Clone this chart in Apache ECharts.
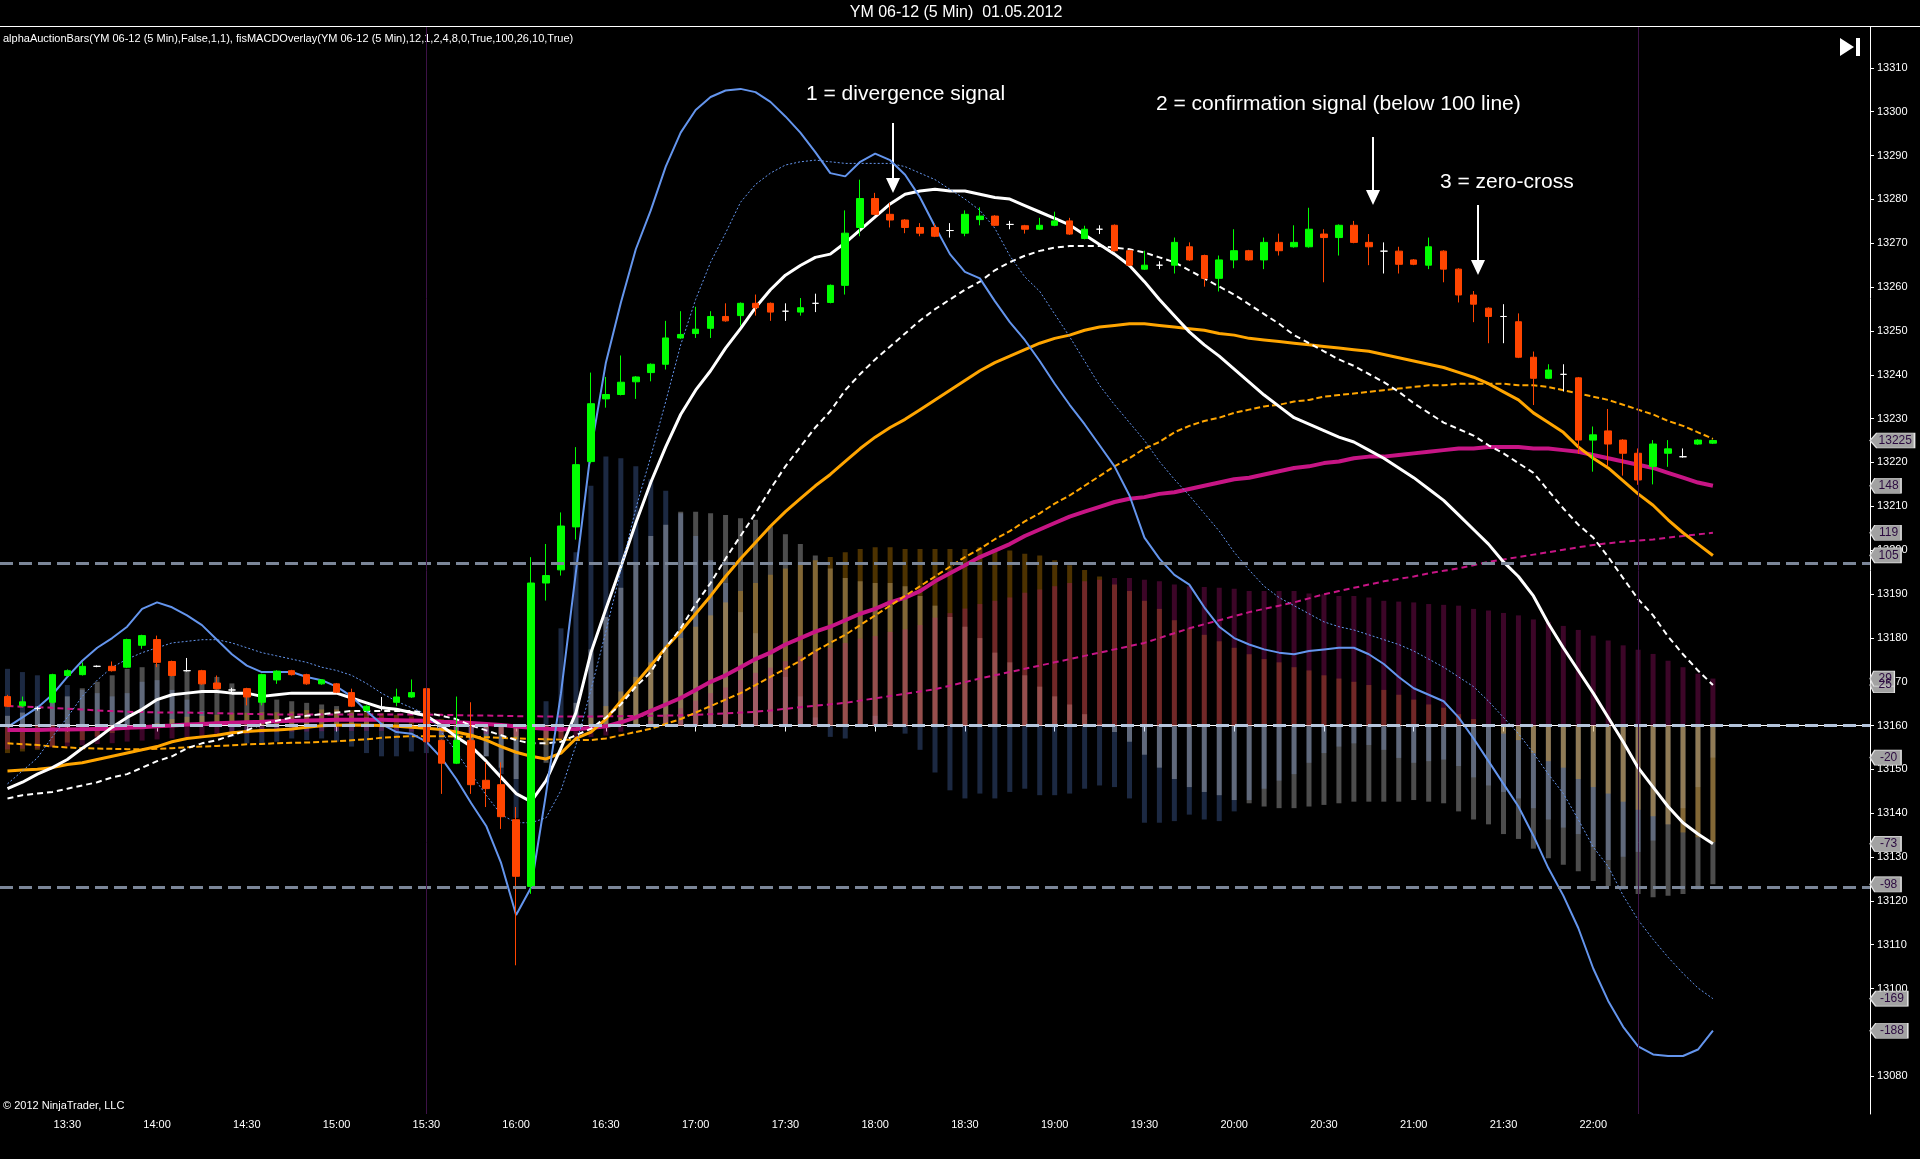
<!DOCTYPE html>
<html><head><meta charset="utf-8">
<script src="https://cdn.jsdelivr.net/npm/echarts@6/dist/echarts.min.js"></script>
<style>html,body{margin:0;padding:0;background:#000;}#c{width:1920px;height:1159px;}</style>
</head><body><div id="c"></div>
<script>
// ---------- categories (5-minute bars) ----------
const categories = [];
for (let m = 13 * 60 + 10; m <= 23 * 60 + 30; m += 5) {
  categories.push(String(Math.floor(m / 60)).padStart(2, '0') + ':' + String(m % 60).padStart(2, '0'));
}
const timeTickLabels = ['13:30','14:00','14:30','15:00','15:30','16:00','16:30','17:00','17:30','18:00','18:30','19:00','19:30','20:00','20:30','21:00','21:30','22:00'];
const sessionBreaks = ['15:30', '22:15'];
const macdLevels = [100, 0, -100];

// ---------- price bars: [open, close, low, high] ----------
const candles = [
[13166.6,13164.4,13164.2,13167.0],[13164.5,13165.4,13164.2,13166.6],[13163.9,13163.9,13163.4,13164.3],[13165.3,13171.6,13165.0,13171.8],
[13171.4,13172.5,13171.2,13172.8],[13171.6,13173.5,13171.4,13174.4],[13173.5,13173.5,13173.3,13173.7],[13173.5,13172.5,13172.3,13174.6],
[13173.3,13179.6,13173.1,13179.8],[13178.3,13180.5,13177.5,13180.7],[13179.6,13174.4,13173.3,13180.5],[13174.6,13171.4,13171.2,13174.8],
[13172.5,13172.5,13172.3,13175.4],[13172.5,13169.5,13169.3,13172.7],[13169.7,13168.4,13168.2,13171.4],[13168.1,13168.1,13167.6,13168.6],
[13168.4,13166.5,13164.6,13168.6],[13165.3,13171.6,13164.6,13171.8],[13170.4,13172.4,13169.5,13172.6],[13172.5,13171.6,13171.4,13172.7],
[13171.6,13169.5,13169.3,13171.8],[13169.5,13170.4,13169.3,13170.6],[13169.5,13167.6,13167.4,13169.7],[13167.5,13164.4,13164.2,13168.4],
[13163.4,13164.4,13163.2,13164.6],[13164.2,13164.2,13163.4,13166.5],[13165.3,13166.5,13164.4,13168.4],[13166.5,13167.5,13166.3,13170.5],
[13168.4,13156.3,13156.1,13168.6],[13156.6,13151.4,13144.4,13156.8],[13151.4,13156.6,13151.2,13166.6],[13156.6,13146.5,13144.4,13165.3],
[13147.5,13145.6,13141.4,13151.6],[13146.5,13139.2,13136.4,13151.6],[13138.5,13125.6,13105.3,13141.4],[13123.3,13192.5,13121.6,13198.4],
[13192.5,13194.2,13188.5,13201.4],[13195.5,13205.5,13194.2,13208.6],[13205.3,13219.5,13202.4,13223.5],[13220.2,13233.4,13219.8,13240.5],
[13234.5,13235.5,13232.5,13239.5],[13235.5,13238.3,13235.3,13244.4],[13238.4,13239.5,13234.5,13239.7],[13240.5,13242.4,13238.5,13242.6],
[13242.4,13248.4,13241.2,13252.3],[13248.4,13249.2,13248.2,13254.5],[13249.4,13250.4,13248.4,13255.5],[13250.6,13253.3,13248.4,13254.5],
[13253.3,13252.3,13252.1,13256.3],[13253.5,13256.3,13251.2,13256.5],[13256.3,13255.3,13253.5,13258.3],[13256.3,13254.3,13252.3,13256.5],
[13254.5,13254.5,13252.3,13256.3],[13254.3,13255.3,13253.5,13257.5],[13256.3,13256.3,13254.3,13258.5],[13256.5,13260.4,13256.3,13260.6],
[13260.4,13272.3,13258.3,13277.5],[13273.6,13280.2,13271.6,13284.5],[13280.2,13276.6,13276.4,13281.5],[13276.6,13275.3,13273.6,13279.2],
[13275.3,13273.6,13272.3,13275.5],[13273.6,13272.3,13271.6,13274.6],[13273.6,13271.6,13271.4,13274.4],[13272.9,13272.9,13271.3,13274.6],
[13272.3,13276.6,13271.6,13277.5],[13275.4,13276.2,13274.1,13278.2],[13276.2,13274.1,13273.9,13276.4],[13274.3,13274.3,13273.2,13275.1],
[13274.0,13273.2,13272.2,13274.2],[13273.2,13274.1,13273.0,13275.8],[13274.1,13275.1,13273.9,13277.2],[13275.1,13272.1,13271.9,13275.8],
[13271.1,13273.2,13270.9,13274.0],[13273.2,13273.2,13272.1,13274.1],[13274.1,13268.3,13268.1,13274.3],[13268.3,13265.0,13264.8,13268.5],
[13264.1,13265.0,13263.9,13268.3],[13265.0,13265.0,13264.1,13265.9],[13265.0,13270.2,13263.1,13271.3],[13269.2,13266.2,13266.0,13270.2],
[13267.2,13262.0,13260.1,13267.4],[13262.0,13266.2,13259.0,13267.2],[13266.2,13268.3,13264.3,13273.2],[13268.3,13266.2,13266.0,13268.5],
[13266.2,13270.2,13264.1,13271.3],[13270.2,13268.3,13267.2,13272.2],[13269.2,13270.2,13269.0,13274.1],[13269.2,13273.2,13269.0,13278.1],
[13272.1,13271.3,13261.1,13273.2],[13271.3,13274.1,13267.2,13274.3],[13274.1,13270.2,13270.0,13275.1],[13270.2,13269.2,13265.0,13272.1],
[13268.2,13268.2,13263.1,13270.2],[13268.2,13265.2,13263.1,13269.2],[13266.2,13265.2,13265.0,13266.4],[13265.0,13269.2,13264.1,13271.3],
[13268.2,13264.1,13261.1,13268.4],[13264.1,13258.2,13256.5,13264.3],[13258.2,13256.1,13252.0,13259.1],[13255.2,13253.3,13247.2,13255.4],
[13253.3,13253.3,13247.2,13256.1],[13252.1,13244.0,13243.8,13254.0],[13244.0,13239.2,13233.1,13245.3],[13239.2,13241.1,13239.0,13242.4],
[13240.1,13240.1,13236.2,13242.4],[13239.3,13225.1,13222.0,13239.5],[13225.1,13226.3,13217.9,13228.2],[13227.2,13224.2,13219.1,13232.2],
[13225.1,13222.1,13217.0,13225.3],[13222.1,13216.0,13214.9,13223.2],[13219.1,13224.2,13215.0,13225.1],[13222.1,13223.1,13219.0,13225.1],
[13221.3,13221.3,13221.1,13223.2],[13224.2,13225.1,13224.0,13225.3],[13224.4,13225.0,13224.2,13225.2]
];

// ---------- MACD overlay lines (indicator units) ----------
const blueFast = [-1,5,11,19,30,40,48,54,61,72,76,73,68,62,53,44,37,33,33,33,30,28,24,18,9,1,-4,-5,-10,-20,-33,-48,-62,-85,-117,-100,-42,20,95,
170,224,261,294,318,345,366,380,388,392,393,391,385,376,366,354,341,339,348,353,349,340,326,308,291,280,276,
262,249,238,225,211,198,186,173,160,142,116,103,93,87,73,61,54,50,47,45,44,46,47,48,48,44,38,30,23,19,15,5,-8,-22,-36,-50,-68,-88,-105,-125,-150,-170,-186,-198,-203,-204,-204,-200,-188.4];
const blueSignal = [-36,-28,-20,-7,5,18,28,36,41,45,48,51,52,53,53,51,48,45,43,41,39,36,34,31,26,20,15,11,7,-4,-16,-30,-43,-55,-60,-60,-57,-40,-12,
22,58,96,134,166,200,235,263,286,304,323,334,341,346,348,349,348,347,347,347,347,345,341,337,331,325,318,
307,290,277,268,254,240,225,210,198,187,176,163,152,142,131,120,107,96,86,79,74,69,64,61,59,56,53,50,46,41,36,30,24,15,5,-5,-17,-30,-42,-58,-75,-87,-105,-120,-132,-143,-153,-162,-168.6];
const whiteFast = [-39,-35,-30,-26,-21,-14,-8,-1,5,10,16,19,20,21,21,20,20,18,19,20,20,20,20,17,14,11,10,8,6,0,-7,-13,-22,-32,-42,-47,
-34,-14,8,45,72,98,125,150,172,192,207,219,233,245,258,269,278,284,289,291,298,306,314,322,328,330,331,330,330,328,326,
325,321,317,313,309,303,297,291,284,274,263,253,243,235,228,220,212,204,197,190,186,182,178,175,170,165,159,153,146,139,130,121,112,101,92,80,63,48,34,20,5,-10,-26,-38,-50,-60,-67,-73];
const whiteSignal = [-45,-43,-42,-41,-39,-37,-35,-32,-30,-26,-22,-19,-14,-11,-9,-6,-3,1,3,5,6,7,8,9,9,9,9,9,8,6,4,0,-3,-6,-9,-11,-11,-10,-6,
-2,5,13,24,33,48,60,75,88,103,117,131,146,160,172,184,194,207,217,226,234,242,250,257,263,269,274,281,286,290,
293,295,296,296,296,295,294,292,289,286,281,276,271,266,260,254,248,241,236,231,226,222,217,212,206,199,193,187,183,179,
173,168,162,156,145,134,124,116,104,91,78,68,55,44,34,25];
const orangeFast = [-28,-27.5,-27,-26,-24,-23,-21,-19,-17,-15,-13,-10,-8,-7,-6,-4.5,-3.7,-3.1,-2.7,-2.1,-1,-0.2,0.2,0.4,0.2,0,-0.4,-1,-1.7,-2.5,-4,-6,-9,-13,-16.5,-19,-20.6,-17,-8,
-4,4,15,26,37,48,58,69,80,92,103,113,123,132,140,148,155,163,171,178,184,189,195,201,207,213,219,224,228,232,
236,239,241,244,246,247,248,248,247,246,245,244,242,241,239,238,237,236,235,234,233,232,231,229,227,225,223,221,218,215,
211,206,201,193,187,181,172,165,159,151,143,136,127,119,112,105];
const orangeSignal = [-11,-11.5,-12,-13,-13.5,-14,-14.2,-14.4,-14.6,-14.6,-14.4,-14,-13.4,-13,-12.6,-12.2,-11.6,-11.4,-10.9,-10.7,-10.5,-10.1,-9.7,-9.1,-8.5,-7.6,-7,-6.6,-6.6,-6.6,-6.8,-7,-7.2,-7.6,-8,-8.3,-8.5,-8.7,-8.9,
-9,-8,-6,-4,-2,1,4,8,12,16,20,25,30,35,40,46,51,56,62,68,74,80,86,92,98,104,109,115,120,126,
131,137,142,148,154,160,165,171,175,181,185,188,190,193,195,197,198,200,201,203,204,205,206,207,208,209,210,210,211,211,
211,211,210,210,209,207,205,203,201,198,195,192,188,185,181,177];
const magentaFast = [-2.7,-2.7,-2.7,-2.5,-2.5,-2.3,-2.1,-2,-1.4,-1,-0.5,0,0.6,1,1.4,1.7,2,2.3,2.7,3,3.1,3.3,3.5,3.5,3.5,3.5,3.3,3.1,2.9,2.3,2,1.5,1,0.4,-0.6,-1.4,-2,-2.3,-2.1,
-1.5,-0.5,2,5,9,13,17,22,27,31,36,41,45,50,54,58,61,65,69,72,76,79,83,89,94,99,104,108,112,117,
121,125,129,132,135,138,140,141,143,144,146,148,150,152,153,155,157,159,160,162,163,165,166,166,167,168,169,170,171,171,
172,172,172,171,171,170,169,167,165,163,161,159,156,153,150,148];
const magentaSignal = [12,11.6,11.4,10.9,10.3,9.9,9.3,8.9,8.5,8.3,8.1,8,8,7.8,7.6,7.4,7.2,7,6.8,6.8,6.8,6.8,6.8,6.8,6.8,6.8,6.8,6.8,6.8,6.6,6.4,6.2,6.2,6,5.8,5.8,5.6,5.6,5.6,
5.6,5.7,5.8,5.9,6,6.1,6.3,6.6,7,7.5,8,8.5,9.3,10.3,11.3,12.2,13.1,14,15.4,16.8,18.2,19.6,21,22.4,24.6,26.8,29,31,33,35,
37,39,41,43,45,47,49,51,54,57,60,62.5,65,67.5,70,72,74,76,78.5,81,83,85,87,89,90.5,92,94,95.5,97,99,
101,102.5,104,105.5,107,108.5,110,111.5,112.5,113.5,114.2,114.8,116,117,118,119];

// histograms = fast line minus its signal line
const diff = (a, b) => a.map((v, i) => +(v - b[i]).toFixed(1));
const blueHist = diff(blueFast, blueSignal);
const whiteHist = diff(whiteFast, whiteSignal);
const orangeHist = diff(orangeFast, orangeSignal);
const magentaHist = diff(magentaFast, magentaSignal);

// ---------- styling ----------
const FONT = "'Liberation Sans', Arial, sans-serif";
const C_BLUE = '#6495ED', C_WHITE = '#FFFFFF', C_ORANGE = '#FFA500', C_MAG = '#C71585';
const last = a => a[a.length - 1];

function tag(value, text) {
  const w = text.length * 6.7 + 11;
  return {
    silent: true,
    symbol: 'path://M0,7 L6,0 L40,0 L40,14 L6,14 Z',
    symbolSize: [w, 15],
    symbolKeepAspect: false,
    symbolOffset: [7.5 + w / 2, 0],
    itemStyle: { color: '#a2a2a2', borderColor: '#e4e4e4', borderWidth: 1 },
    label: { show: true, position: 'inside', formatter: text, color: '#2c0b40', fontSize: 12, fontFamily: FONT, offset: [3, 0] },
    data: [{ coord: [categories.length - 1, value] }]
  };
}
const tagFor = arr => tag(last(arr), String(Math.round(last(arr))));

function histSeries(name, data, color, extra) {
  return Object.assign({
    name, type: 'bar', yAxisIndex: 1, data, barWidth: 5, barGap: '-100%',
    itemStyle: { color }, z: 1, silent: true
  }, extra || {});
}
function lineSeries(name, data, color, width, type, z, extra) {
  return Object.assign({
    name, type: 'line', yAxisIndex: 1, data, symbol: 'none', smooth: false,
    lineStyle: { color, width, type }, z, silent: true
  }, extra || {});
}

const levelLines = {
  silent: true, symbol: ['none', 'none'], label: { show: false },
  data: [
    { yAxis: macdLevels[0], lineStyle: { color: '#7b8698', width: 3, type: [13, 6] } },
    { yAxis: macdLevels[1], lineStyle: { color: '#b3c3da', width: 3, type: [13, 6] } },
    { yAxis: macdLevels[2], lineStyle: { color: '#7b8698', width: 3, type: [13, 6] } },
    ...sessionBreaks.map(t => ({ xAxis: t, lineStyle: { color: '#3d1247', width: 1, type: 'solid' } }))
  ]
};

const option = {
  backgroundColor: '#000',
  animation: false,
  grid: { left: 0, right: 50, top: 27, bottom: 45, containLabel: false },
  xAxis: {
    type: 'category', data: categories, boundaryGap: true,
    axisLine: { show: true, lineStyle: { color: '#ffffff', width: 1 } },
    axisTick: { show: true, alignWithLabel: true, length: 6, interval: (i, v) => timeTickLabels.includes(v), lineStyle: { color: '#ffffff' } },
    axisLabel: { interval: (i, v) => timeTickLabels.includes(v), color: '#ffffff', fontSize: 11, fontFamily: FONT, margin: 5 },
    splitLine: { show: false }
  },
  yAxis: [
    {
      type: 'value', position: 'right', min: 13071.38, max: 13319.33, splitNumber: 25,
      axisLine: { show: true, lineStyle: { color: '#ffffff', width: 1 } },
      axisTick: { show: true, inside: false, length: 4, lineStyle: { color: '#ffffff' } },
      axisLabel: { color: '#ffffff', fontSize: 11, fontFamily: FONT, margin: 7, showMinLabel: false, showMaxLabel: false,
                   formatter: v => String(Math.round(v)) },
      splitLine: { show: false }
    },
    { type: 'value', show: false, min: -239.8, max: 431.2, splitLine: { show: false } }
  ],
  series: [
    histSeries('blueHist', blueHist, 'rgba(100,149,237,0.28)', { markLine: levelLines, markPoint: tagFor(blueHist) }),
    histSeries('whiteHist', whiteHist, 'rgba(255,255,255,0.30)', { markPoint: tagFor(whiteHist) }),
    histSeries('orangeHist', orangeHist, 'rgba(255,165,0,0.30)'),
    histSeries('magentaHist', magentaHist, 'rgba(199,21,133,0.30)'),
    lineSeries('magentaSignal', magentaSignal, C_MAG, 2, [6, 4], 3, { markPoint: tagFor(magentaSignal) }),
    lineSeries('magentaFast', magentaFast, C_MAG, 4, 'solid', 3, { markPoint: tagFor(magentaFast) }),
    lineSeries('orangeSignal', orangeSignal, C_ORANGE, 2, [6, 3], 3),
    lineSeries('orangeFast', orangeFast, C_ORANGE, 3, 'solid', 3, { markPoint: tagFor(orangeFast) }),
    lineSeries('whiteSignal', whiteSignal, C_WHITE, 2, [6, 4], 3, { markPoint: tagFor(whiteSignal) }),
    lineSeries('magentaHistTag', [], C_MAG, 0, 'solid', 3, { markPoint: tagFor(magentaHist) }),
    lineSeries('whiteFast', whiteFast, C_WHITE, 3, 'solid', 3, { markPoint: tagFor(whiteFast) }),
    lineSeries('blueSignal', blueSignal, C_BLUE, 1, [2, 2], 3, { markPoint: tagFor(blueSignal) }),
    lineSeries('blueFast', blueFast, C_BLUE, 2, 'solid', 3, { markPoint: tagFor(blueFast) }),
    {
      name: 'price', type: 'candlestick', yAxisIndex: 0, data: candles, barWidth: 7, z: 4, silent: true,
      itemStyle: { color: '#00ff00', color0: '#ff4500', borderColor: '#00ff00', borderColor0: '#ff4500', borderColorDoji: '#ffffff', borderWidth: 1 },
      markPoint: tag(last(candles)[1], String(Math.round(last(candles)[1])))
    }
  ],
  graphic: [
    { type: 'line', silent: true, shape: { x1: 0, y1: 26.5, x2: 1920, y2: 26.5 }, style: { stroke: '#ffffff', lineWidth: 1 } },
    { type: 'text', silent: true, x: 956, y: 13, style: { text: 'YM 06-12 (5 Min)  01.05.2012', fill: '#ffffff', font: '16px ' + FONT, textAlign: 'center', textVerticalAlign: 'middle' } },
    { type: 'text', silent: true, x: 3, y: 39, style: { text: 'alphaAuctionBars(YM 06-12 (5 Min),False,1,1), fisMACDOverlay(YM 06-12 (5 Min),12,1,2,4,8,0,True,100,26,10,True)', fill: '#ffffff', font: '11px ' + FONT, textAlign: 'left', textVerticalAlign: 'middle' } },
    { type: 'text', silent: true, x: 3, y: 1106, style: { text: '\u00A9 2012 NinjaTrader, LLC', fill: '#ffffff', font: '11px ' + FONT, textAlign: 'left', textVerticalAlign: 'middle' } },
    { type: 'text', silent: true, x: 806, y: 94, style: { text: '1 = divergence signal', fill: '#ffffff', font: '21px ' + FONT, textAlign: 'left', textVerticalAlign: 'middle' } },
    { type: 'text', silent: true, x: 1156, y: 104, style: { text: '2 = confirmation signal (below 100 line)', fill: '#ffffff', font: '21px ' + FONT, textAlign: 'left', textVerticalAlign: 'middle' } },
    { type: 'text', silent: true, x: 1440, y: 182, style: { text: '3 = zero-cross', fill: '#ffffff', font: '21px ' + FONT, textAlign: 'left', textVerticalAlign: 'middle' } },
    // arrows
    { type: 'line', silent: true, shape: { x1: 893, y1: 123, x2: 893, y2: 180 }, style: { stroke: '#ffffff', lineWidth: 2 } },
    { type: 'polygon', silent: true, shape: { points: [[886, 178], [900, 178], [893, 193]] }, style: { fill: '#ffffff' } },
    { type: 'line', silent: true, shape: { x1: 1373, y1: 137, x2: 1373, y2: 192 }, style: { stroke: '#ffffff', lineWidth: 2 } },
    { type: 'polygon', silent: true, shape: { points: [[1366, 190], [1380, 190], [1373, 205]] }, style: { fill: '#ffffff' } },
    { type: 'line', silent: true, shape: { x1: 1478, y1: 205, x2: 1478, y2: 262 }, style: { stroke: '#ffffff', lineWidth: 2 } },
    { type: 'polygon', silent: true, shape: { points: [[1471, 260], [1485, 260], [1478, 275]] }, style: { fill: '#ffffff' } },
    // "go to end" icon
    { type: 'polygon', silent: true, shape: { points: [[1840, 38], [1840, 56], [1854, 47]] }, style: { fill: '#ffffff' } },
    { type: 'rect', silent: true, shape: { x: 1856, y: 38, width: 4, height: 18 }, style: { fill: '#ffffff' } }
  ]
};

const chart = echarts.init(document.getElementById('c'), null, { renderer: 'canvas' });
chart.setOption(option);
</script>
</body></html>
